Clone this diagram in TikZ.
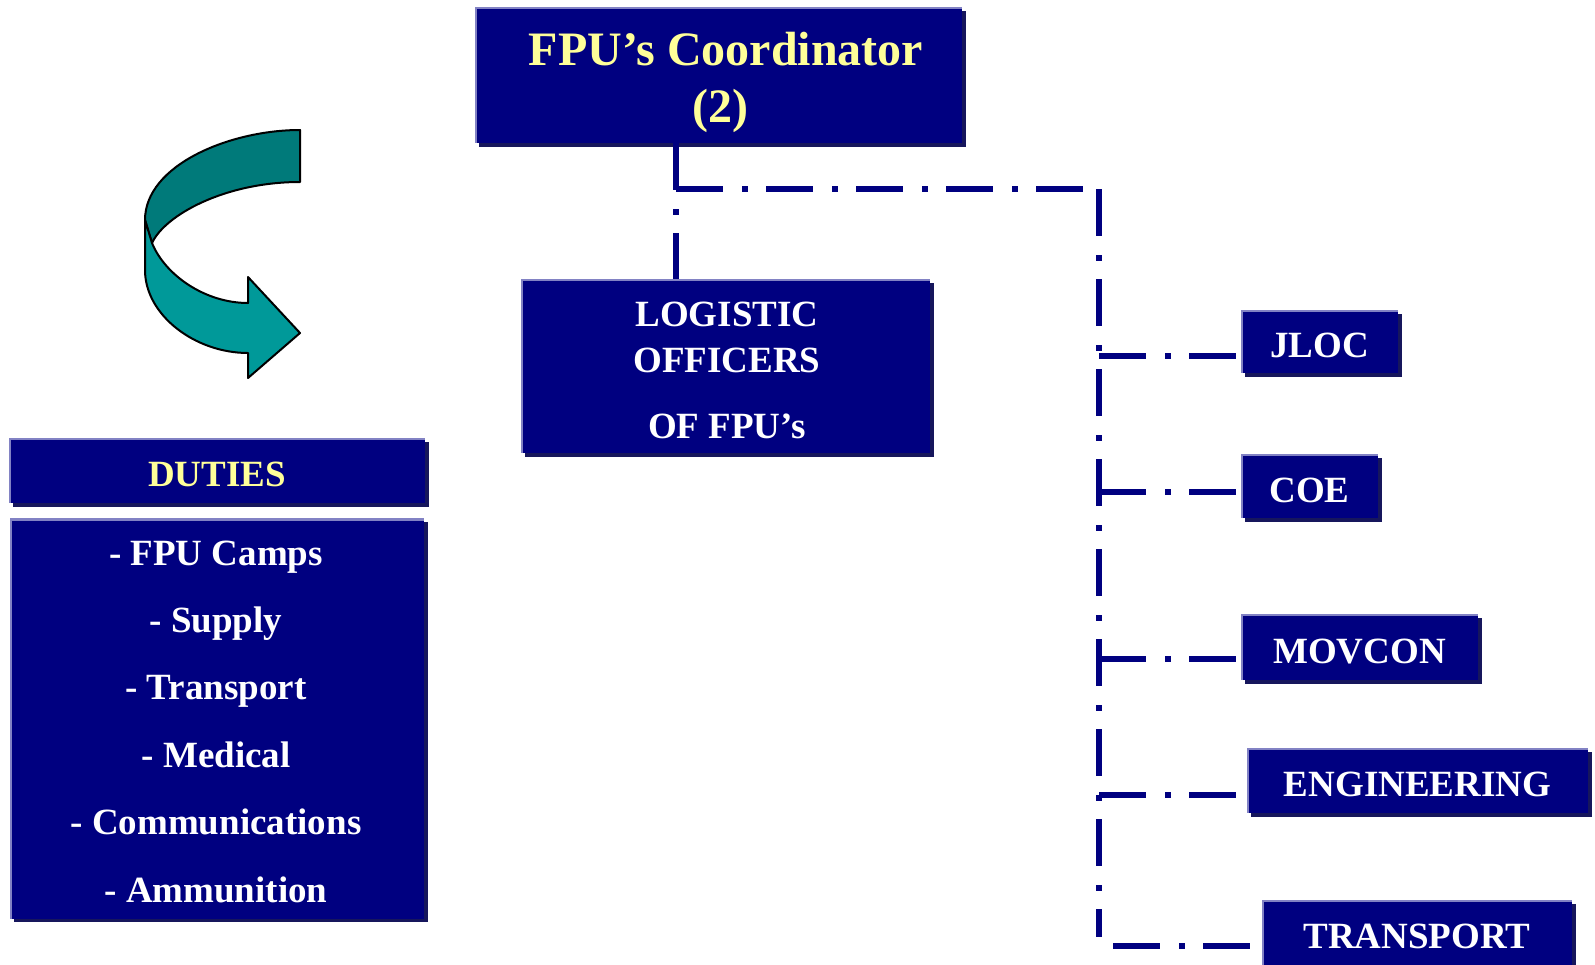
\documentclass[tikz,border=0pt]{standalone}
\usepackage{fontspec}
\setmainfont{Liberation Serif}
\usepackage{tikz}
\usetikzlibrary{shadows}
\usetikzlibrary{positioning}
\definecolor{boxnavy}{HTML}{000080}
\definecolor{boxlight}{HTML}{8282C4}
\definecolor{boxshade}{HTML}{16165C}
\definecolor{titleyellow}{HTML}{FFFF99}
\definecolor{ribbonback}{HTML}{007A7A}
\definecolor{ribbonfront}{HTML}{009999}

\begin{document}
\begin{tikzpicture}[
      x=0.5pt, y=-0.5pt,
      block/.style ={rectangle, fill=boxnavy, inner sep=0pt, text=white,
        font=\bfseries\fontsize{18.5}{22}\selectfont, text height=16pt, text depth=0pt,
        drop shadow={shadow xshift=1.75pt, shadow yshift=-1.75pt, fill=boxshade, opacity=1},
        path picture={\draw [boxlight, line width=2pt] (path picture bounding box.south west) -- (path picture bounding box.north west) -- (path picture bounding box.north east) ;}},
      boxtext/.style ={anchor=base, inner sep=0pt, text=white, font=\bfseries\fontsize{18.5}{22}\selectfont},
      bigtext/.style ={boxtext, text=titleyellow, font=\bfseries\fontsize{24}{28}\selectfont},
      link/.style ={draw=boxnavy, line width=2.8pt, dash pattern=on 23.5pt off 9.5pt on 3pt off 9pt},
      ribbon/.style ={draw=black, line width=1pt, line join=round},
      node distance=7.5pt
    ]
    \useasboundingbox (0,0) rectangle (1595,964) ;

    \filldraw [ribbon, fill=ribbonback] (300,130) .. controls (230,130) and (145,165) .. (145,220) -- (152,243) .. controls (165,215) and (225,182) .. (300,182) -- cycle ;
    \filldraw [ribbon, fill=ribbonfront] (145,220) -- (145,270) .. controls (145,315) and (195,353) .. (248,353) -- (248,378) -- (300,333) -- (248,277) -- (248,303) .. controls (205,303) and (165,275) .. (152,243) -- cycle ;

    \node [block, minimum width=243.5pt, minimum height=68pt] (coord) at (718.5,75) {} ;
    \node [bigtext] (coordname) at (726,65) {FPU’s Coordinator} ;
    \node [bigtext] (coordnum) at (720,122) {(2)} ;

    \node [block, minimum width=204.5pt, minimum height=87pt] (logi) at (725.5,366) {} ;
    \node [boxtext] (logi1) at (727,326) {LOGISTIC} ;
    \node [boxtext] (logi2) at (727,372) {OFFICERS} ;
    \node [boxtext] (logi3) at (727,438) {OF FPU’s} ;

    \node [block, text=titleyellow, minimum width=208pt, minimum height=32.5pt] (dutyhead) at (217,470.5) {DUTIES} ;
    \node [block, minimum width=207pt, minimum height=200pt] (dutylist) [below=of dutyhead] {} ;
    \foreach \duty [count=\i] in {- FPU Camps, - Supply, - Transport, - Medical, - Communications, - Ammunition}
      \node [boxtext] (duty\i) at (216,{565+67.4*(\i-1)}) {\duty} ;

    \node [block, minimum width=78.5pt, minimum height=31.5pt] (jloc) at (1319.5,341.5) {JLOC} ;
    \node [block, minimum width=68.5pt, minimum height=32pt] (coe) at (1309.5,486) {COE} ;
    \node [block, minimum width=118.5pt, minimum height=33pt] (movcon) at (1359.5,647) {MOVCON} ;
    \node [block, minimum width=170.5pt, minimum height=32.5pt] (eng) at (1417.5,780.5) {ENGINEERING} ;
    \node [block, minimum width=155pt, minimum height=32.5pt] (trans) at (1417,932.5) {TRANSPORT} ;

    \coordinate (tj) at (676,189) ;
    \coordinate (rj) at (1099,189) ;
    \coordinate (rb) at (1099,937) ;
    \draw [link] (tj |- coord.south) -- (tj |- logi.north) ;
    \draw [link] (tj) -- (rj) ;
    \draw [link] (rj) -- (rb) ;
    \foreach \dest/\y in {jloc/356, coe/492, movcon/659, eng/795} {
      \coordinate (b\dest) at (1099,\y) ;
      \draw [link] (b\dest) -- (b\dest -| \dest.west) ;
    }
    \coordinate (btrans) at (1113,946) ;
    \draw [link] (btrans) -- (btrans -| trans.west) ;
  \end{tikzpicture}
\end{document}
